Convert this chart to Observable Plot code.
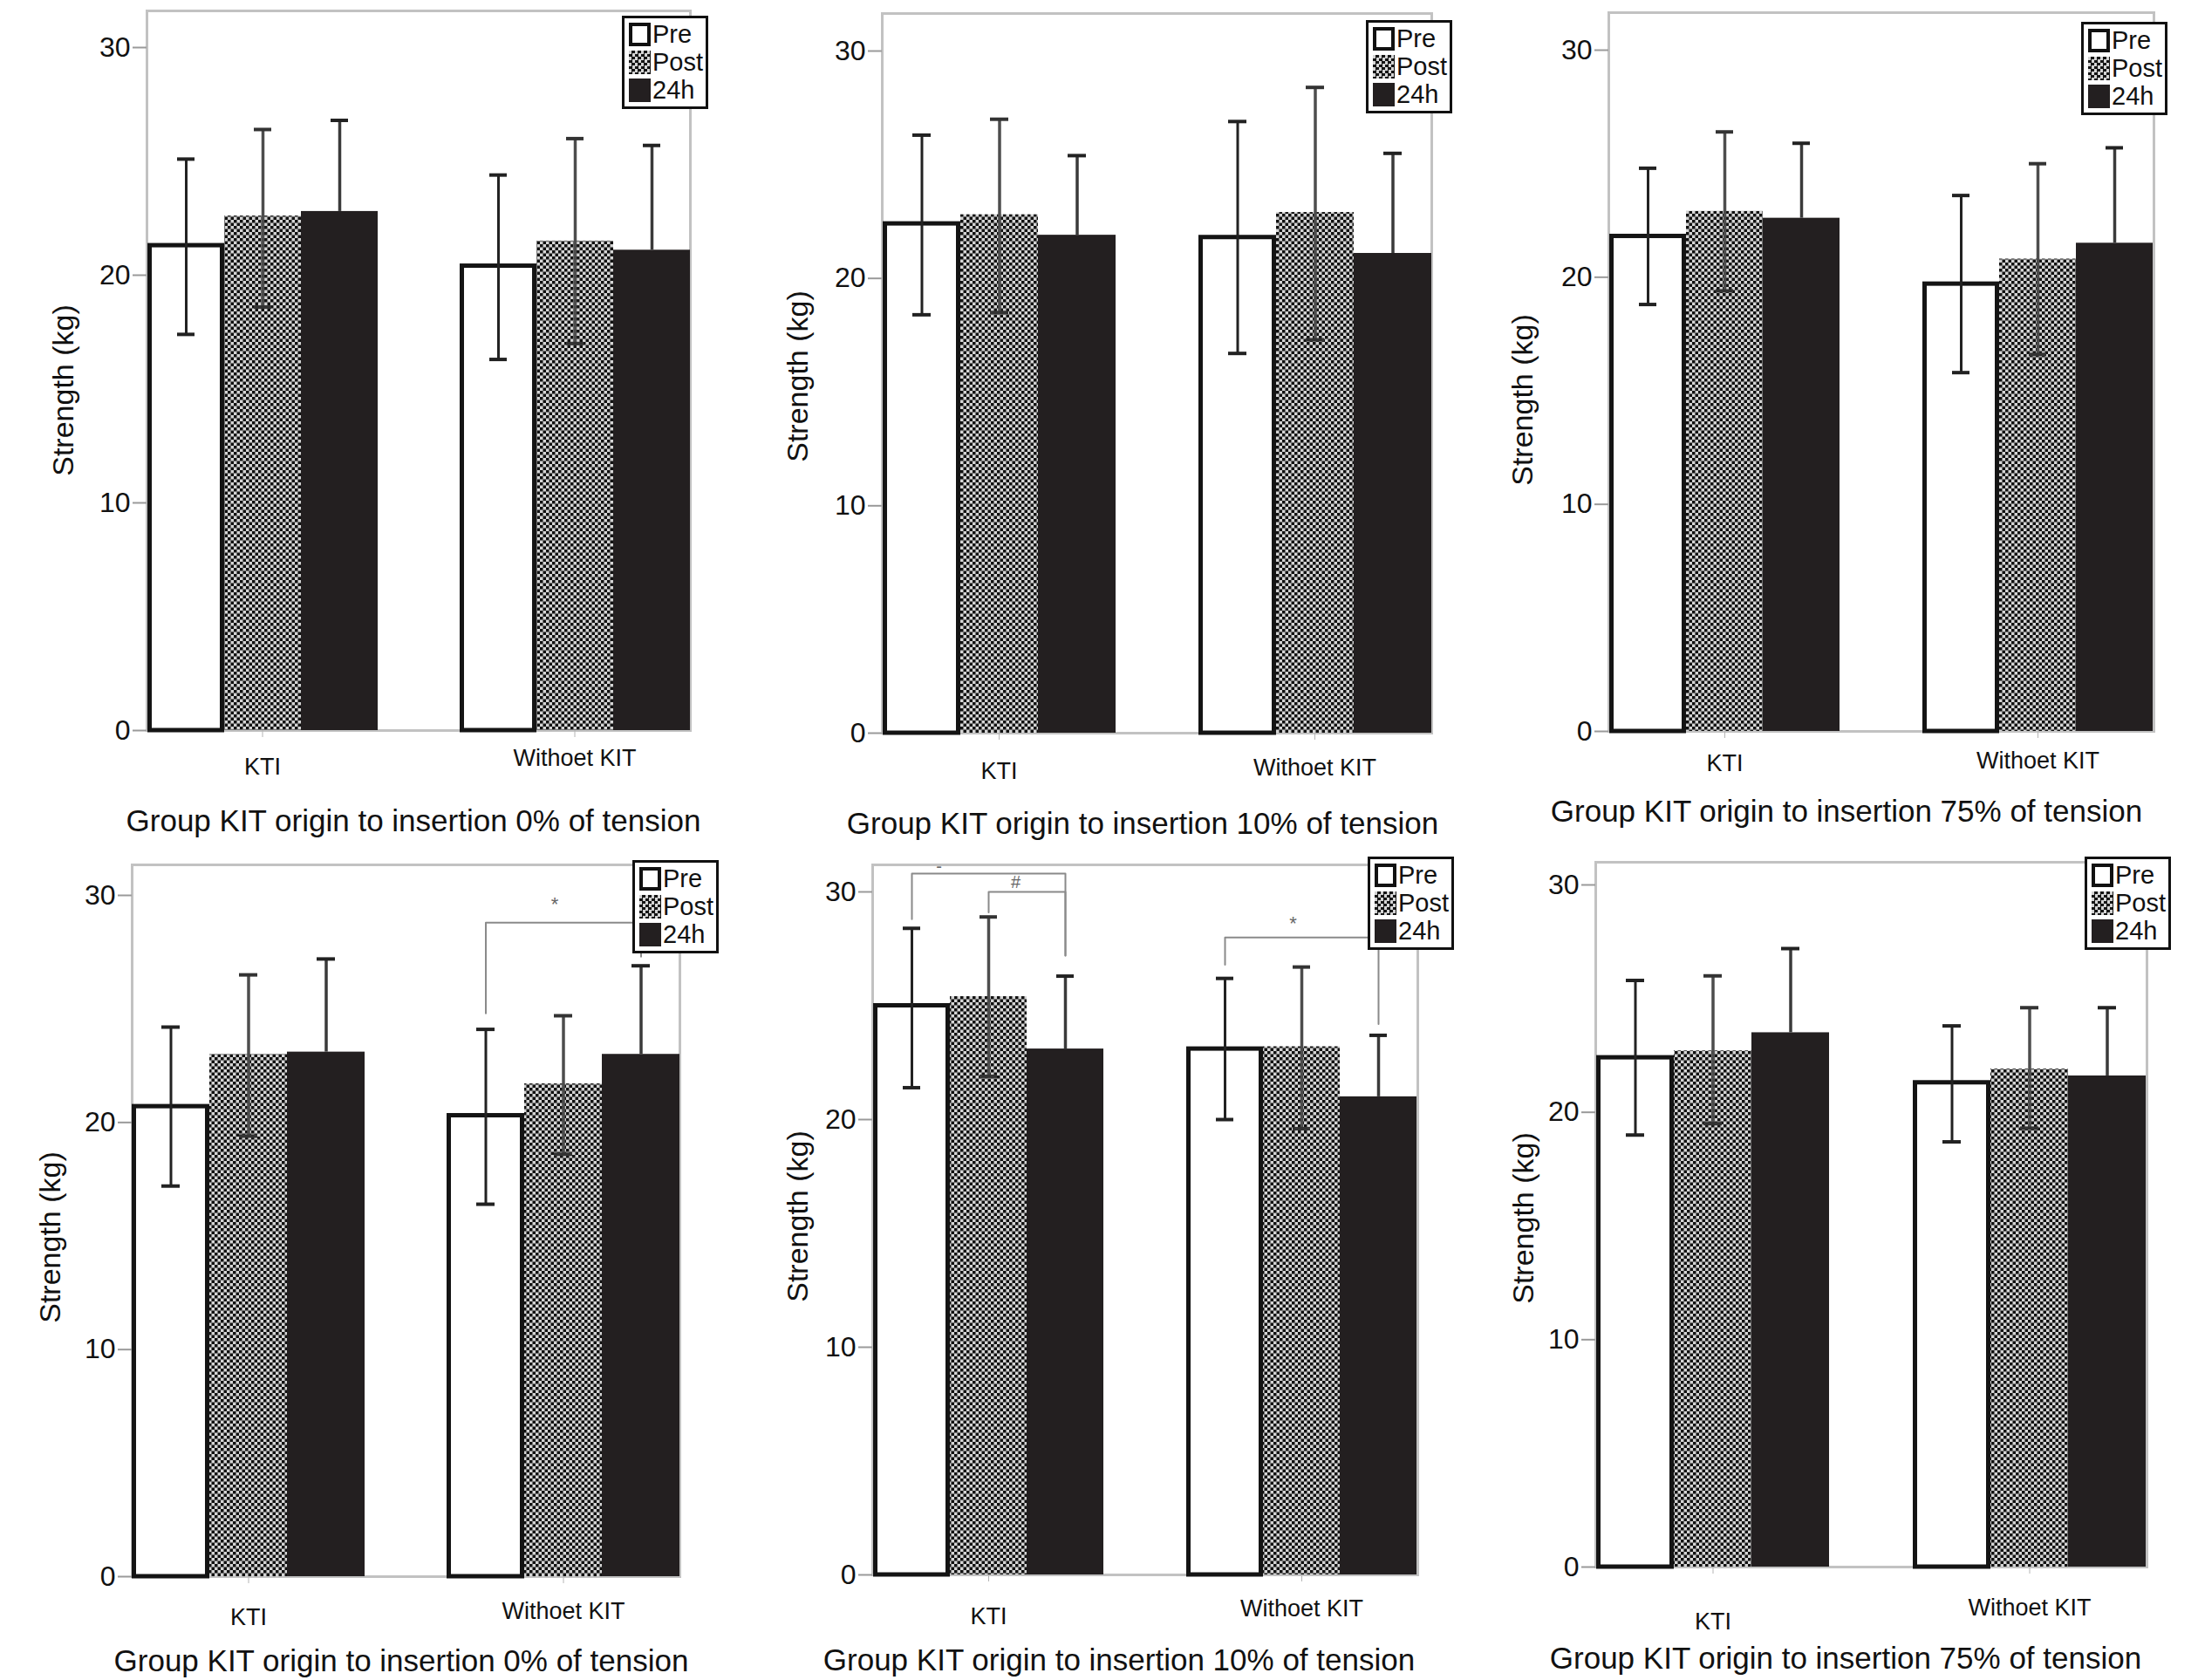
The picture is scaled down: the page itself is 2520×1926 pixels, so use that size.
<!DOCTYPE html>
<html>
<head>
<meta charset="utf-8">
<script src="https://cdn.jsdelivr.net/npm/d3@7"></script>
<script src="https://cdn.jsdelivr.net/npm/@observablehq/plot@0.6"></script>
<style>
  body { margin: 0; background: #fff; }
  #fig { position: relative; width: 2520px; height: 1926px; background: #fff; font-family: "Liberation Sans", Arial, sans-serif; color: #111; }
  #fig svg { position: absolute; }
  .legend { position: absolute; border: 3px solid #111; background: #fff; padding: 2px 3px 3px 5px; font-size: 29px; line-height: 32px; }
  .sw { display: inline-block; width: 25px; height: 27px; vertical-align: -4px; margin-right: 2px; box-sizing: border-box; }
  .s0 { border: 4px solid #111; background: #fff; }
  .s1 { background: repeating-conic-gradient(#151515 0 25%, #d4d4d4 0 50%) 0 0 / 7px 7px; }
  .s2 { background: #231f20; }
  .cap { position: absolute; width: 900px; text-align: center; font-size: 35px; line-height: 42px; white-space: nowrap; }
</style>
</head>
<body>
<div id="fig"></div>
<script>
const groups = ["KTI", "Withoet KIT"];
const times = ["Pre", "Post", "24h"];
const captions = [
  "Group KIT origin to insertion 0% of tension",
  "Group KIT origin to insertion 10% of tension",
  "Group KIT origin to insertion 75% of tension",
  "Group KIT origin to insertion 0% of tension",
  "Group KIT origin to insertion 10% of tension",
  "Group KIT origin to insertion 75% of tension"
];
const yTicks = [0, 10, 20, 30];
const yLabel = "Strength (kg)";

// order: KTI Pre, Post, 24h, Withoet KIT Pre, Post, 24h
const mean1 = [21.3, 22.6, 22.8, 20.4, 21.5, 21.1];
const hi1 = [25.1, 26.4, 26.8, 24.4, 26.0, 25.7];
const lo1 = [17.4, 18.6, null, 16.3, 17.0, null];

const mean2 = [22.4, 22.8, 21.9, 21.8, 22.9, 21.1];
const hi2 = [26.3, 27.0, 25.4, 26.9, 28.4, 25.5];
const lo2 = [18.4, 18.5, null, 16.7, 17.3, null];

const mean3 = [21.8, 22.9, 22.6, 19.7, 20.8, 21.5];
const hi3 = [24.8, 26.4, 25.9, 23.6, 25.0, 25.7];
const lo3 = [18.8, 19.4, null, 15.8, 16.6, null];

const mean4 = [20.7, 23.0, 23.1, 20.3, 21.7, 23.0];
const hi4 = [24.2, 26.5, 27.2, 24.1, 24.7, 26.9];
const lo4 = [17.2, 19.4, null, 16.4, 18.6, null];

const mean5 = [25.0, 25.4, 23.1, 23.1, 23.2, 21.0];
const hi5 = [28.4, 28.9, 26.3, 26.2, 26.7, 23.7];
const lo5 = [21.4, 21.9, null, 20.0, 19.6, null];

const mean6 = [22.4, 22.7, 23.5, 21.3, 21.9, 21.6];
const hi6 = [25.8, 26.0, 27.2, 23.8, 24.6, 24.6];
const lo6 = [19.0, 19.5, null, 18.7, 19.3, null];

// significance brackets: group, from, from end, top, to, to end
const brackets4 = [["Withoet KIT", "Pre", 24.8, 28.8, "24h", 27.3]];
const signs4 = [["Withoet KIT", "Post", 29.6, "*"]];
const brackets5 = [
  ["KTI", "Pre", 28.8, 30.8, "24h", 27.2],
  ["KTI", "Post", 29.1, 30.0, "24h", 27.2],
  ["Withoet KIT", "Pre", 26.8, 28.0, "24h", 24.2]
];
const signs5 = [["KTI", "Pre", 31.1, "-"], ["KTI", "Post", 30.4, "#"], ["Withoet KIT", "Post", 28.6, "*"]];

const panels = [
  {mean: mean1, hi: hi1, lo: lo1, brackets: [], signs: []},
  {mean: mean2, hi: hi2, lo: lo2, brackets: [], signs: []},
  {mean: mean3, hi: hi3, lo: lo3, brackets: [], signs: []},
  {mean: mean4, hi: hi4, lo: lo4, brackets: brackets4, signs: signs4},
  {mean: mean5, hi: hi5, lo: lo5, brackets: brackets5, signs: signs5},
  {mean: mean6, hi: hi6, lo: lo6, brackets: [], signs: []}
];

// panel geometry in page pixels (cell is 840 x 960)
const layout = [
  {col: 0, row: 0, left: 131, right: 827, top: 12, zero: 837, y30: 54, legend: [713, 18], caption: [474, 941], label: [36, 447], pad: [23, 13]},
  {col: 1, row: 0, left: 134, right: 837, top: 15, zero: 840, y30: 58, legend: [726, 23], caption: [470, 944], label: [38, 431], pad: [25, 21]},
  {col: 2, row: 0, left: 128, right: 825, top: 14, zero: 838, y30: 57, legend: [706, 25], caption: [437, 930], label: [30, 458], pad: [18, 15]},
  {col: 0, row: 1, left: 115, right: 816, top: 31, zero: 847, y30: 66, legend: [725, 26], caption: [460, 944], label: [22, 458], pad: [28, 21]},
  {col: 1, row: 1, left: 123, right: 821, top: 31, zero: 845, y30: 62, legend: [728, 22], caption: [443, 943], label: [38, 434], pad: [29, 20]},
  {col: 2, row: 1, left: 112, right: 817, top: 28, zero: 836, y30: 54, legend: [710, 22], caption: [436, 941], label: [30, 436], pad: [44, 28]}
];

const W = 840, H = 910;
const fig = document.querySelector("#fig");

panels.forEach((p, k) => {
  const L = layout[k];
  const rows = [];
  groups.forEach((g, gi) => times.forEach((t, ti) => {
    const i = gi * 3 + ti;
    rows.push({group: g, time: t, mean: p.mean[i], hi: p.hi[i], lo: p.lo[i]});
  }));
  const pre = rows.filter((d) => d.time === "Pre");
  const post = rows.filter((d) => d.time === "Post");
  const late = rows.filter((d) => d.time === "24h");

  const pts = [];
  p.brackets.forEach((b, j) => {
    pts.push({id: j, group: b[0], time: b[1], y: b[2]});
    pts.push({id: j, group: b[0], time: b[1], y: b[3]});
    pts.push({id: j, group: b[0], time: b[4], y: b[3]});
    pts.push({id: j, group: b[0], time: b[4], y: b[5]});
  });
  const signs = p.signs.map((s) => ({group: s[0], time: s[1], y: s[2], text: s[3]}));

  const yTop = 30 * (L.zero - L.top) / (L.zero - L.y30);
  const pid = "chk" + k;
  const cap = {fx: "group", x: "time", strokeWidth: 4, insetLeft: 34, insetRight: 34};

  const plot = Plot.plot({
    width: W,
    height: H,
    marginLeft: L.left,
    marginRight: W - L.right,
    marginTop: L.top,
    marginBottom: H - L.zero,
    style: {fontFamily: "'Liberation Sans', Arial, sans-serif", color: "#111", background: "transparent", overflow: "visible"},
    facet: {marginTop: 0, marginRight: 0, marginBottom: 0, marginLeft: 0},
    fx: {domain: groups, paddingInner: 0.26, paddingOuter: 0.1},
    x: {domain: times, padding: 0, axis: null},
    y: {domain: [0, yTop]},
    marks: [
      Plot.frame({facet: "super", stroke: "#c2c2c2", strokeWidth: 3}),
      Plot.barY(post, {fx: "group", x: "time", y: "mean", fill: `url(#${pid})`}),
      Plot.barY(late, {fx: "group", x: "time", y: "mean", fill: "#231f20"}),
      Plot.barY(pre, {fx: "group", x: "time", y: "mean", fill: "white", stroke: "#141414", strokeWidth: 5, insetLeft: 2.5, insetRight: 2.5}),
      Plot.ruleX(pre, {fx: "group", x: "time", y1: "lo", y2: "hi", stroke: "#222", strokeWidth: 3}),
      Plot.tickY(pre, {...cap, y: "hi", stroke: "#222"}),
      Plot.tickY(pre, {...cap, y: "lo", stroke: "#222"}),
      Plot.ruleX(post, {fx: "group", x: "time", y1: "lo", y2: "hi", stroke: "#4d4d4d", strokeWidth: 3.5}),
      Plot.tickY(post, {...cap, y: "hi", stroke: "#333"}),
      Plot.tickY(post, {...cap, y: "lo", stroke: "#333"}),
      Plot.ruleX(late, {fx: "group", x: "time", y1: "mean", y2: "hi", stroke: "#3a3a3a", strokeWidth: 3.5}),
      Plot.tickY(late, {...cap, y: "hi", stroke: "#222"}),
      Plot.line(pts, {fx: "group", x: "time", y: "y", z: "id", stroke: "#8a8a8a", strokeWidth: 2}),
      Plot.text(signs.filter((d) => d.text !== "*"), {fx: "group", x: "time", y: "y", text: "text", dx: 31, fontSize: 20, fill: "#666"}),
      Plot.text(signs.filter((d) => d.text === "*"), {fx: "group", x: "time", y: "y", text: "text", dx: -10, fontSize: 22, fill: "#666"}),
      Plot.axisY({ticks: yTicks, tickSize: 16, tickPadding: 3, fontSize: 32, stroke: "#9a9a9a", strokeWidth: 2, fill: "#111", label: null}),
      Plot.text([yLabel], {
        facet: "super", frameAnchor: "left", textAnchor: "middle", lineAnchor: "middle",
        text: (d) => d, rotate: -90, fontSize: 34, fill: "#111",
        dx: L.label[0] - L.left, dy: L.label[1] - (L.top + L.zero) / 2
      }),
      Plot.axisFx({anchor: "bottom", ticks: [groups[0]], tickSize: 8, tickPadding: L.pad[0], fontSize: 27, stroke: "#b5b5b5", fill: "#111", label: null}),
      Plot.axisFx({anchor: "bottom", ticks: [groups[1]], tickSize: 8, tickPadding: L.pad[1], fontSize: 27, stroke: "#b5b5b5", fill: "#111", label: null})
    ]
  });

  d3.select(plot).insert("defs", ":first-child").html(
    `<pattern id="${pid}" width="7" height="7" patternUnits="userSpaceOnUse">` +
    `<rect width="7" height="7" fill="#d4d4d4"/>` +
    `<rect width="3.5" height="3.5" fill="#111111"/>` +
    `<rect x="3.5" y="3.5" width="3.5" height="3.5" fill="#111111"/></pattern>`
  );

  const x0 = L.col * 840, y0 = L.row * 960;
  plot.style.left = x0 + "px";
  plot.style.top = y0 + "px";
  fig.append(plot);

  const leg = document.createElement("div");
  leg.className = "legend";
  leg.style.left = x0 + L.legend[0] + "px";
  leg.style.top = y0 + L.legend[1] + "px";
  times.forEach((t, i) => {
    const r = document.createElement("div");
    r.innerHTML = `<span class="sw s${i}"></span>${t}`;
    leg.append(r);
  });
  fig.append(leg);

  const c = document.createElement("div");
  c.className = "cap";
  c.textContent = captions[k];
  c.style.left = x0 + L.caption[0] - 450 + "px";
  c.style.top = y0 + L.caption[1] - 21 + "px";
  fig.append(c);
});
</script>
</body>
</html>
